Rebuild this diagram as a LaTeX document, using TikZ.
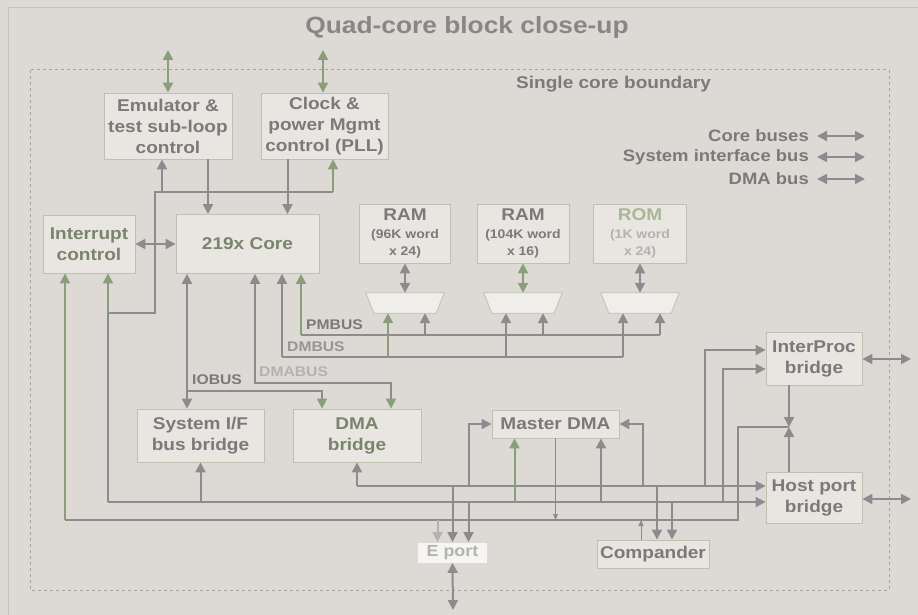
\documentclass[tikz,border=0pt]{standalone}
\usepackage{fontspec}
\setmainfont{Liberation Sans}[FakeStretch=1.12]
\usetikzlibrary{arrows.meta}

\definecolor{bgc}{RGB}{221,218,213}
\definecolor{boxfill}{RGB}{233,230,225}
\definecolor{muxfill}{RGB}{240,238,234}
\definecolor{boxline}{RGB}{188,194,178}
\definecolor{txtgray}{RGB}{122,122,122}
\definecolor{txtolive}{RGB}{122,132,108}
\definecolor{txtfade}{RGB}{178,178,176}
\definecolor{romgreen}{RGB}{168,182,152}
\definecolor{linegray}{RGB}{140,140,142}
\definecolor{linegreen}{RGB}{138,158,122}
\definecolor{framec}{RGB}{196,194,190}

\tikzset{
  tri/.tip={Triangle[length=10pt,width=10pt]},
  gtri/.tip={Triangle[length=10pt,width=10pt,color=linegreen]},
  stri/.tip={Triangle[length=6pt,width=5pt]},
  blk/.style={draw=boxline, fill=boxfill, line width=0.8pt, text=txtgray,
    font=\bfseries\fontsize{17}{21}\selectfont, align=center, inner sep=0pt},
  mux/.style={minimum width=78pt, minimum height=20pt, inner sep=0pt},
  muxshape/.style={draw=boxline, fill=muxfill, line width=0.8pt},
  arr/.style={draw=linegray, line width=2pt},
  garr/.style={draw=linegreen, line width=2pt},
  tarr/.style={draw=linegray, line width=0.9pt},
  buslbl/.style={font=\bfseries\fontsize{14}{14}\selectfont, text=txtgray, inner sep=0pt, anchor=west},
  legtxt/.style={font=\bfseries\fontsize{16.5}{18}\selectfont, text=txtgray, inner sep=0pt},
}
\newcommand\ramsub{\fontsize{12.5}{15}\selectfont}

\begin{document}
\begin{tikzpicture}[x=1pt, y=-1pt]

\def\yBusA{486}
\def\yBusB{502}
\def\yBusC{520}

\fill[bgc] (0,0) rectangle (918,615);
\useasboundingbox (0,0) rectangle (918,615);
\draw[framec, line width=1pt] (8,615) -- (8,8) -- (918,8);

% title and core boundary
\node[font=\bfseries\fontsize{23.5}{25}\selectfont, text=txtgray!90] (title) at (467,27) {Quad-core block close-up};
\draw[linegray!80, line width=1pt, dash pattern=on 3pt off 3pt] (30,70) rectangle (889,590);
\node[font=\bfseries\fontsize{17}{18}\selectfont, text=txtgray, anchor=west, inner sep=0pt] (bound) at (516,84) {Single core boundary};

% legend
\foreach \t/\yy/\nm in {Core buses/136/lgA, System interface bus/157/lgB, DMA bus/179/lgC}{
  \node[legtxt, anchor=east] (\nm) at (809,\yy) {\t};
  \draw[arr, line width=1.5pt, tri-tri] ([xshift=8pt]\nm.east) -- ([xshift=56pt]\nm.east);
}

% blocks
\node[blk, minimum width=128pt, minimum height=66pt] (emu) at (168,126) {Emulator \&\\test sub-loop\\control};
\node[blk, minimum width=127pt, minimum height=66pt] (clk) at (324.5,126) {Clock \&\\power Mgmt\\control (PLL)};
\node[blk, text=txtolive, minimum width=92pt, minimum height=58pt] (irq) at (89,244) {Interrupt\\control};
\node[blk, text=txtolive, minimum width=143pt, minimum height=59pt] (core) at (247.5,244) {219x Core};
\node[blk, minimum width=91pt, minimum height=59pt] (ram1) at (405,233.5) {RAM\\[-3pt]{\ramsub (96K word}\\[-4pt]{\ramsub x 24)}};
\node[blk, minimum width=92pt, minimum height=59pt] (ram2) at (523,233.5) {RAM\\[-3pt]{\ramsub (104K word}\\[-4pt]{\ramsub x 16)}};
\node[blk, text=romgreen, minimum width=93pt, minimum height=59pt] (rom) at (640,233.5) {ROM\\[-3pt]{\ramsub\color{txtfade} (1K word}\\[-4pt]{\ramsub\color{txtfade} x 24)}};
\foreach \m/\xx in {mux1/405, mux2/523, mux3/640}{
  \node[mux] (\m) at (\xx,303) {};
  \draw[muxshape] (\m.north west) -- (\m.north east) -- ([xshift=-8pt]\m.south east)
    -- ([xshift=8pt]\m.south west) -- cycle;
}
\node[blk, minimum width=127pt, minimum height=53pt] (sysif) at (200.5,435.5) {System I/F\\bus bridge};
\node[blk, text=txtolive, minimum width=128pt, minimum height=53pt] (dmab) at (357,435.5) {DMA\\bridge};
\node[blk, minimum width=127pt, minimum height=28pt] (mdma) at (555.5,424) {Master DMA};
\node[blk, minimum width=96pt, minimum height=53pt] (ipc) at (814,358.5) {InterProc\\bridge};
\node[blk, minimum width=96pt, minimum height=51pt] (host) at (814,497.5) {Host port\\bridge};
\node[blk, minimum width=112pt, minimum height=28pt] (comp) at (653,554) {Compander};
\node[blk, draw=none, fill=white!60!boxfill, text=txtfade, font=\bfseries\fontsize{16}{16}\selectfont,
  minimum width=69pt, minimum height=20pt] (eport) at (452.5,552.5) {E port};

% bus junctions
\coordinate (busA) at (357,\yBusA);
\coordinate (busB) at (108,\yBusB);
\coordinate (busC) at (65,\yBusC);
\coordinate (busCe) at (738,\yBusC);
\coordinate (hpj) at (789,427);
\coordinate (ipA) at (705,\yBusA);
\coordinate (ipB) at (723,\yBusB);
\coordinate (mdL) at (469,\yBusA);
\coordinate (mdR) at (643,\yBusA);
\coordinate (sifA) at (108,313);
\coordinate (sifB) at (155,192);
\coordinate (sifC) at (333,192);
\coordinate (io) at (187,391);
\coordinate (dmabus) at (255,383);
\coordinate (dmb) at (282,357);
\coordinate (pmb) at (301,335);
\coordinate (emuT) at (168,50);
\coordinate (clkT) at (323,50);
\coordinate (ipcR) at (911,359);
\coordinate (hostR) at (911,499);
\coordinate (eportB) at (453,610);

% off-core links
\draw[garr, tri-tri] (emuT) -- (emu.north);
\draw[garr, tri-tri] (clkT) -- (clk.north -| clkT);
\draw[arr, tri-tri] (ipc.east |- ipcR) -- (ipcR);
\draw[arr, tri-tri] (host.east |- hostR) -- (hostR);
\draw[arr, tri-tri] (eport.south) -- (eportB);

% core control
\draw[arr, -tri] ([xshift=40pt]emu.south) -- ([xshift=40pt]emu.south |- core.north);
\draw[arr, -tri] ([xshift=-37pt]clk.south) -- ([xshift=-37pt]clk.south |- core.north);
\draw[arr, tri-tri] (irq.east) -- (core.west);

% system interface bus
\draw[arr] (sifA) -| (sifB) -- (sifC);
\draw[arr, -tri] ([xshift=-6pt]emu.south |- sifB) -- ([xshift=-6pt]emu.south);
\draw[garr, -tri] (sifC) -- (clk.south -| sifC);

% memory buses
\draw[arr, tri-tri] (core.south -| io) -- (sysif.north -| io);
\draw[arr, -gtri] (io) -| ([xshift=-35pt]dmab.north);
\draw[arr, tri-gtri] (core.south -| dmabus) -- (dmabus) -| ([xshift=34pt]dmab.north);
\draw[arr, -tri] (dmb) -- (core.south -| dmb);
\draw[arr] (dmb) -- ([xshift=-17pt]mux3.south |- dmb);
\draw[garr, -tri] (pmb) -- (core.south -| pmb);
\draw[arr] (pmb) -- ([xshift=20pt]mux3.south |- pmb);
\foreach \m in {mux1,mux2,mux3}{
  \draw[arr, -tri] ([xshift=20pt]\m.south |- pmb) -- ([xshift=20pt]\m.south);
}
\draw[garr, -tri] ([xshift=-17pt]mux1.south |- dmb) -- ([xshift=-17pt]mux1.south);
\draw[arr, -tri] ([xshift=-17pt]mux2.south |- dmb) -- ([xshift=-17pt]mux2.south);
\draw[arr, -tri] ([xshift=-17pt]mux3.south |- dmb) -- ([xshift=-17pt]mux3.south);
\draw[arr, tri-tri] (ram1.south) -- (mux1.north);
\draw[garr, tri-tri] (ram2.south) -- (mux2.north);
\draw[arr, tri-tri] (rom.south) -- (mux3.north);

\node[buslbl] (lbIO) at (192,380) {IOBUS};
\node[buslbl, text=txtfade] (lbDMA) at (259,372) {DMABUS};
\node[buslbl] (lbPM) at (306,325) {PMBUS};
\node[buslbl, text=txtgray!80] (lbDM) at (287,347) {DMBUS};

% DMA buses
\draw[arr, -tri] (busA) -- (dmab.south);
\draw[arr, -tri] (busA) -- (busA -| host.west);
\draw[garr, -tri] (busB) -- (irq.south -| busB);
\draw[arr] (busB) -- (sifA);
\draw[arr, -tri] (busB) -- (busB -| host.west);
\draw[arr, -tri] (sysif.south |- busB) -- (sysif.south);
\draw[garr, -tri] (busC) -- (irq.south -| busC);
\draw[arr] (busC) -- (busCe) |- (hpj);
\draw[arr, -tri] (ipc.south -| hpj) -- (hpj);
\draw[arr, -tri] (host.north -| hpj) -- (hpj);
\draw[arr, -tri] (ipA) |- ([yshift=8.5pt]ipc.west);
\draw[arr, -tri] (ipB) |- ([yshift=-10.5pt]ipc.west);

% master DMA
\draw[arr, -tri] (mdL) |- (mdma.west);
\draw[arr, -tri] (mdR) |- (mdma.east);
\draw[garr, -tri] ([xshift=-41pt]mdma.south |- busB) -- ([xshift=-41pt]mdma.south);
\draw[arr, -tri] ([xshift=45.5pt]mdma.south |- busB) -- ([xshift=45.5pt]mdma.south);
\draw[tarr, -stri] (mdma.south) -- (mdma.south |- busC);

% E port and compander
\draw[arr, -tri] (eport.north |- busA) -- (eport.north);
\draw[arr, -tri] ([xshift=16pt]eport.north |- busB) -- ([xshift=16pt]eport.north);
\draw[arr, draw=txtfade, -tri] ([xshift=-15pt]eport.north |- busC) -- ([xshift=-15pt]eport.north);
\draw[arr, -tri] ([xshift=4pt]comp.north |- busA) -- ([xshift=4pt]comp.north);
\draw[arr, -tri] ([xshift=19pt]comp.north |- busB) -- ([xshift=19pt]comp.north);
\draw[tarr, -stri] ([xshift=-12pt]comp.north) -- ([xshift=-12pt]comp.north |- busC);

\end{tikzpicture}
\end{document}
